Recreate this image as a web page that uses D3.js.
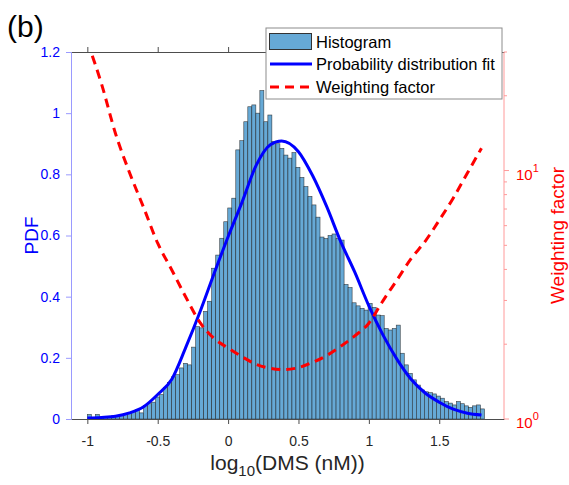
<!DOCTYPE html>
<html>
<head>
<meta charset="utf-8">
<script src="https://cdn.jsdelivr.net/npm/d3@7"></script>
<style>
  body { margin: 0; background: #fff; }
  text { font-family: "Liberation Sans", Arial, sans-serif; }
</style>
</head>
<body>
<svg id="chart" width="569" height="485"></svg>
<script>
// histogram of log10(DMS), 99 bins starting at -1
const binStart = -1.0
const binWidth = 0.0285
const pdfValues = [
  0.015, 0.004, 0.015, 0.006, 0.008, 0.006, 0.010, 0.012, 0.015, 0.018,
  0.020, 0.024, 0.030, 0.020, 0.044, 0.050, 0.055, 0.072, 0.080, 0.103,
  0.120, 0.138, 0.145, 0.167, 0.182, 0.177, 0.235, 0.302, 0.298, 0.352,
  0.385, 0.493, 0.536, 0.591, 0.645, 0.690, 0.722, 0.880, 0.910, 0.972,
  1.021, 1.027, 1.000, 1.074, 0.972, 0.994, 0.907, 0.900, 0.885, 0.863,
  0.853, 0.871, 0.823, 0.790, 0.760, 0.728, 0.700, 0.660, 0.595, 0.590,
  0.600, 0.605, 0.590, 0.585, 0.440, 0.430, 0.380, 0.370, 0.362, 0.356,
  0.378, 0.365, 0.340, 0.338, 0.296, 0.291, 0.296, 0.307, 0.215, 0.177,
  0.149, 0.128, 0.111, 0.095, 0.089, 0.086, 0.082, 0.075, 0.068, 0.057,
  0.052, 0.046, 0.057, 0.050, 0.043, 0.038, 0.043, 0.046, 0.033
]

// fitted pdf
const fitX = [-1.0, -0.9, -0.8, -0.7, -0.6, -0.5, -0.4, -0.3, -0.2, -0.1,
  0.0, 0.1, 0.2, 0.3, 0.38, 0.5, 0.6, 0.7, 0.8, 0.9,
  1.0, 1.1, 1.2, 1.3, 1.4, 1.5, 1.6, 1.7, 1.8]
const fitPdf = [0.003, 0.005, 0.009, 0.020, 0.040, 0.080, 0.130, 0.235, 0.350, 0.475,
  0.596, 0.710, 0.830, 0.897, 0.909, 0.874, 0.796, 0.695, 0.580, 0.480,
  0.370, 0.275, 0.195, 0.130, 0.085, 0.055, 0.032, 0.019, 0.013]

// weighting factor (right log axis)
const weightX = [-1.0, -0.9, -0.8, -0.7, -0.6, -0.5, -0.4, -0.3, -0.2, -0.1,
  0.0, 0.1, 0.2, 0.3, 0.4, 0.5, 0.6, 0.7, 0.8, 0.9,
  1.0, 1.1, 1.2, 1.3, 1.4, 1.5, 1.6, 1.7, 1.8]
const weightValues = [33, 22.4, 14.1, 9.8, 7.1, 5.1, 3.98, 3.09, 2.45, 2.11,
  1.93, 1.78, 1.66, 1.60, 1.58, 1.61, 1.69, 1.80, 1.96, 2.16,
  2.43, 2.99, 3.63, 4.42, 5.19, 6.31, 7.76, 9.77, 12.3]

const xTicks = [-1, -0.5, 0, 0.5, 1, 1.5]
const pdfTicks = [0, 0.2, 0.4, 0.6, 0.8, 1, 1.2]
const weightMajor = [1, 10]
const weightMinor = [2, 3, 4, 5, 6, 7, 8, 9, 20, 30]
const legendLabels = ['Histogram', 'Probability distribution fit', 'Weighting factor']

const MARGIN = { top: 52, right: 65, bottom: 66, left: 71 }
const width = 569, height = 485
const x0 = MARGIN.left, x1 = width - MARGIN.right
const y0 = height - MARGIN.bottom, y1 = MARGIN.top

const BLUE = '#0000ff', RED = '#ff0000', INK = '#262626'
const BAR_FILL = '#66a9d6'

const $svg = d3.select('#chart')
$svg.append('rect').attr('width', width).attr('height', height).attr('fill', '#fff')

const x = d3.scaleLinear().domain([-1.116, 1.96]).range([x0, x1])
const y = d3.scaleLinear().domain([0, 1.2]).range([y0, y1])
const yW = d3.scaleLog().domain([1, 30]).range([y0, y1])

$svg.append('clipPath').attr('id', 'plot-clip')
  .append('rect').attr('x', x0).attr('y', y1).attr('width', x1 - x0).attr('height', y0 - y1)

// histogram bars
const bins = pdfValues.map((v, i) => ({ lo: binStart + i * binWidth, hi: binStart + (i + 1) * binWidth, v }))
$svg.append('g')
  .selectAll('rect')
  .data(bins)
  .join('rect')
  .attr('x', d => x(d.lo))
  .attr('width', d => x(d.hi) - x(d.lo))
  .attr('y', d => y(d.v))
  .attr('height', d => y(0) - y(d.v))
  .attr('fill', BAR_FILL)
  .attr('stroke', '#1a1a1a')
  .attr('stroke-opacity', 0.8)
  .attr('stroke-width', 0.6)

// fit line
const fitLine = d3.line().x(d => x(d[0])).y(d => y(d[1])).curve(d3.curveMonotoneX)
$svg.append('path')
  .datum(fitX.map((v, i) => [v, fitPdf[i]]))
  .attr('clip-path', 'url(#plot-clip)')
  .attr('d', fitLine)
  .attr('fill', 'none')
  .attr('stroke', BLUE)
  .attr('stroke-width', 3)

// weighting factor line
const wLine = d3.line().x(d => x(d[0])).y(d => yW(d[1])).curve(d3.curveMonotoneX)
$svg.append('path')
  .datum(weightX.map((v, i) => [v, weightValues[i]]))
  .attr('clip-path', 'url(#plot-clip)')
  .attr('d', wLine)
  .attr('fill', 'none')
  .attr('stroke', RED)
  .attr('stroke-width', 3)
  .attr('stroke-dasharray', '9,6')

// bottom axis
const $xAxis = $svg.append('g')
  .attr('transform', `translate(0,${y0})`)
  .call(d3.axisBottom(x).tickValues(xTicks).tickSize(5).tickSizeOuter(0).tickPadding(12).tickFormat(d => String(d)))
$xAxis.select('.domain').attr('stroke', '#4d4d4d')
$xAxis.selectAll('.tick line').attr('stroke', '#4d4d4d')
$xAxis.selectAll('.tick text').attr('fill', INK).style('font-size', '14px')

// top box line
const $xTop = $svg.append('g')
  .attr('transform', `translate(0,${y1})`)
  .call(d3.axisTop(x).tickValues(xTicks).tickSize(5).tickSizeOuter(0).tickFormat(''))
$xTop.select('.domain').attr('stroke', '#4d4d4d')
$xTop.selectAll('.tick line').attr('stroke', '#4d4d4d')

// left axis
const $yAxis = $svg.append('g')
  .attr('transform', `translate(${x0},0)`)
  .call(d3.axisLeft(y).tickValues(pdfTicks).tickSize(5).tickSizeOuter(0).tickPadding(6).tickFormat(d => String(d)))
$yAxis.select('.domain').attr('stroke', '#9a9aff')
$yAxis.selectAll('.tick line').attr('stroke', '#9a9aff')
$yAxis.selectAll('.tick text').attr('fill', BLUE).style('font-size', '14px')

// right log axis
const $yRight = $svg.append('g').attr('transform', `translate(${x1},0)`)
$yRight.append('line').attr('y1', y0).attr('y2', y1).attr('stroke', '#ff9a9a')
$yRight.selectAll('.minor').data(weightMinor).join('line')
  .attr('class', 'minor')
  .attr('x2', 3).attr('y1', d => yW(d)).attr('y2', d => yW(d))
  .attr('stroke', '#ff9a9a')
$yRight.selectAll('.major').data(weightMajor).join('line')
  .attr('class', 'major')
  .attr('x2', 5).attr('y1', d => yW(d)).attr('y2', d => yW(d))
  .attr('stroke', '#ff9a9a')
const $wLab = $yRight.selectAll('.wlab').data(weightMajor).join('text')
  .attr('class', 'wlab')
  .attr('x', 12).attr('y', d => yW(d) + 9)
  .attr('fill', RED).style('font-size', '15px')
$wLab.append('tspan').text('10')
$wLab.append('tspan').attr('dy', -8).style('font-size', '11px').text(d => Math.round(Math.log10(d)))

// axis titles
$svg.append('text')
  .attr('transform', `translate(38,${(y0 + y1) / 2}) rotate(-90)`)
  .attr('text-anchor', 'middle')
  .attr('fill', BLUE).style('font-size', '19px')
  .text('PDF')
$svg.append('text')
  .attr('transform', `translate(564,${(y0 + y1) / 2}) rotate(-90)`)
  .attr('text-anchor', 'middle')
  .attr('fill', RED).style('font-size', '19px')
  .text('Weighting factor')
const $xTitle = $svg.append('text')
  .attr('x', (x0 + x1) / 2).attr('y', 470)
  .attr('text-anchor', 'middle')
  .attr('fill', INK).style('font-size', '21px')
$xTitle.append('tspan').text('log')
$xTitle.append('tspan').attr('dy', 6).style('font-size', '15px').text('10')
$xTitle.append('tspan').attr('dy', -6).text('(DMS (nM))')

// panel letter
$svg.append('text').attr('x', 7).attr('y', 37)
  .attr('fill', '#000').style('font-size', '30px').text('(b)')

// legend
const $legend = $svg.append('g').attr('transform', 'translate(266,28)')
$legend.append('rect')
  .attr('width', 236).attr('height', 71)
  .attr('fill', '#fff').attr('stroke', '#8c8c8c')
const rowY = [13.5, 36, 59]
$legend.append('rect')
  .attr('x', 3.5).attr('y', rowY[0] - 8).attr('width', 42).attr('height', 16)
  .attr('fill', BAR_FILL).attr('stroke', '#333')
$legend.append('line')
  .attr('x1', 4).attr('x2', 46).attr('y1', rowY[1]).attr('y2', rowY[1])
  .attr('stroke', BLUE).attr('stroke-width', 3)
$legend.append('line')
  .attr('x1', 4).attr('x2', 46).attr('y1', rowY[2]).attr('y2', rowY[2])
  .attr('stroke', RED).attr('stroke-width', 3).attr('stroke-dasharray', '9,6')
$legend.selectAll('.lab').data(legendLabels).join('text')
  .attr('class', 'lab')
  .attr('x', 50).attr('y', (d, i) => rowY[i] + 6)
  .attr('fill', '#000').style('font-size', '16.5px')
  .text(d => d)
</script>
</body>
</html>
